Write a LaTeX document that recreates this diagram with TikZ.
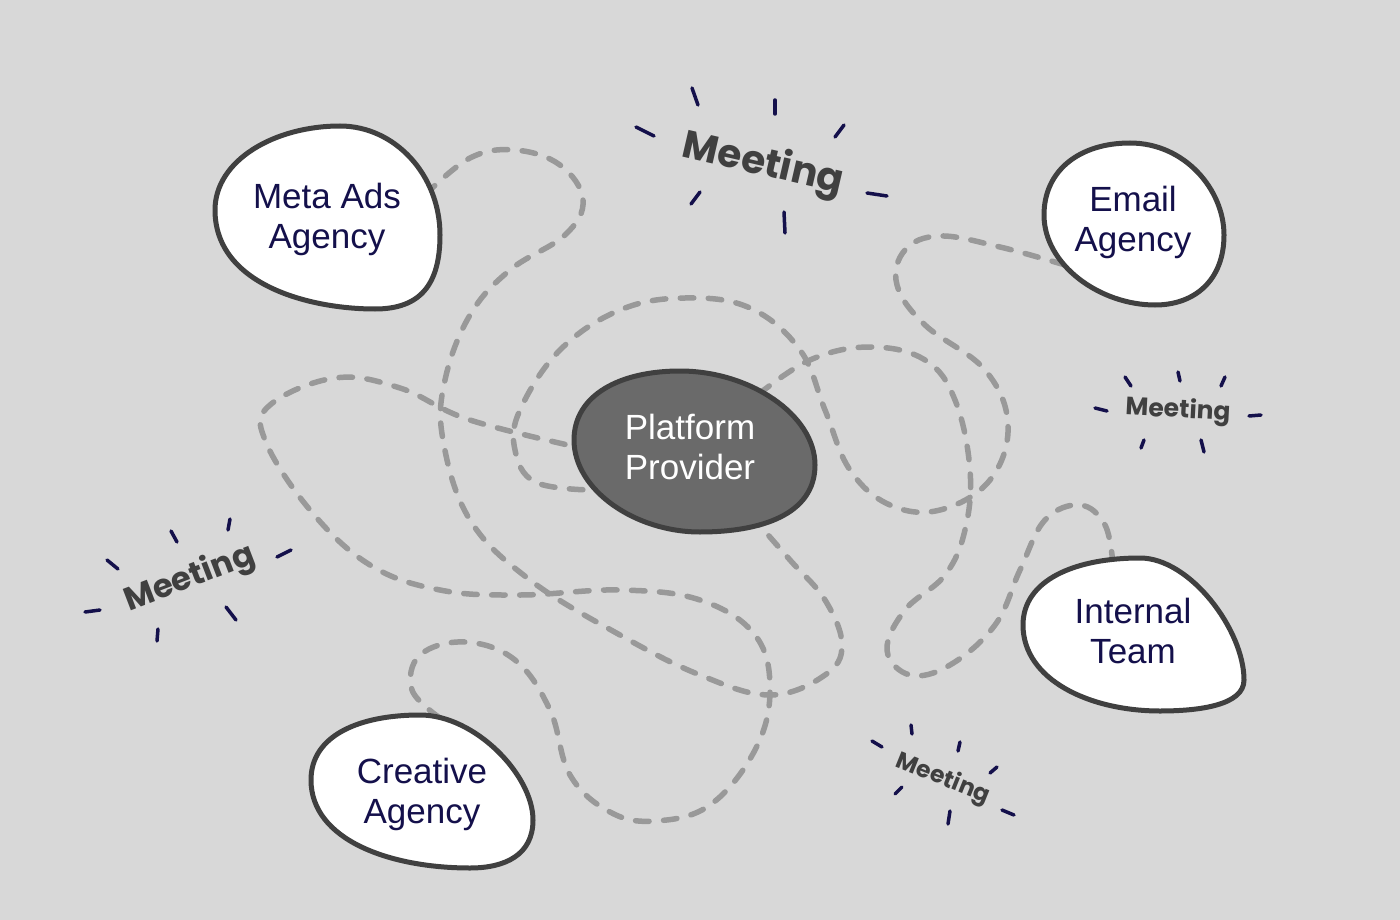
\documentclass[tikz,border=0pt]{standalone}
\usepackage{fontspec}
\setmainfont{Liberation Sans}
\newfontfamily\handfont{Poppins}
\definecolor{bgcol}{HTML}{D8D8D8}
\definecolor{inkcol}{HTML}{14104B}
\definecolor{rimcol}{HTML}{404040}
\definecolor{dashcol}{HTML}{999999}
\definecolor{provcol}{HTML}{6A6A6A}
\tikzset{
  linkline/.style={draw=dashcol, line width=5.5pt, line cap=round, dash pattern=on 13.5pt off 14.5pt},
  blob/.style={draw=rimcol, fill=white, line width=5pt},
  blobtext/.style={align=center, inner sep=0pt, text=inkcol, font=\fontsize{35}{40}\selectfont},
  spark/.style={draw=inkcol, line width=3.5pt, line cap=round},
  meetlabel/.style={inner sep=0pt, text=rimcol},
}
\begin{document}
\begin{tikzpicture}[x=1pt, y=-1pt]
\useasboundingbox (0,0) rectangle (1400,920);
\fill[bgcol] (0,0) rectangle (1400,920);
\coordinate (metaport) at (425,195);
\coordinate (emailport) at (1065,265);
\coordinate (teamport) at (1113,565);
\coordinate (creativeport) at (440,718);
\coordinate (provport0) at (755,520);
\coordinate (provport1) at (590,490);
\coordinate (provport2) at (755,397);
\coordinate (provport3) at (590,450);
\draw[linkline] plot[smooth, tension=.65] coordinates {(metaport) (470,158) (515,150) (560,165) (583,200) (565,235) (510,270) (470,315) (445,380) (443,440) (470,520) (530,580) (620,635) (700,675) (770,695) (825,675) (842,645) (825,600) (790,560) (provport0)};
\draw[linkline] plot[smooth, tension=.65] coordinates {(emailport) (1000,247) (940,236) (905,250) (897,285) (925,325) (985,370) (1008,425) (990,480) (940,510) (890,505) (850,470) (825,410) (800,350) (750,308) (685,298) (620,310) (560,350) (520,410) (515,450) (535,482) (provport1)};
\draw[linkline] plot[smooth, tension=.65] coordinates {(teamport) (1105,525) (1080,505) (1045,520) (1020,570) (995,625) (950,665) (910,675) (887,650) (905,610) (945,575) (965,530) (970,470) (955,400) (925,360) (870,347) (810,360) (provport2)};
\draw[linkline] plot[smooth, tension=.65] coordinates {(creativeport) (412,690) (420,655) (465,642) (515,660) (550,710) (570,775) (610,812) (655,821) (710,805) (755,750) (770,690) (755,635) (700,600) (620,590) (520,595) (440,590) (370,565) (310,510) (265,440) (270,405) (335,378) (400,388) (470,420) (provport3)};
\draw[blob] (340,126) .. controls (395,126) and (440,175) .. (440,235) .. controls (440,285) and (420,309) .. (375,309) .. controls (310,309) and (215,285) .. (215,210) .. controls (215,160) and (275,126) .. (340,126) -- cycle;
\draw[blob] (1130,143) .. controls (1185,143) and (1224,190) .. (1224,235) .. controls (1224,280) and (1195,305) .. (1155,305) .. controls (1100,305) and (1044,265) .. (1044,215) .. controls (1044,170) and (1080,143) .. (1130,143) -- cycle;
\draw[blob] (1140,558) .. controls (1190,558) and (1244,630) .. (1244,680) .. controls (1244,705) and (1200,711) .. (1160,711) .. controls (1090,711) and (1023,680) .. (1023,625) .. controls (1023,580) and (1075,558) .. (1140,558) -- cycle;
\draw[blob] (420,715) .. controls (475,715) and (533,775) .. (533,820) .. controls (533,855) and (505,868) .. (470,868) .. controls (390,868) and (311,840) .. (311,780) .. controls (311,735) and (360,715) .. (420,715) -- cycle;
\draw[blob, fill=provcol] (680,371) .. controls (750,371) and (815,415) .. (815,465) .. controls (815,515) and (760,532) .. (700,532) .. controls (635,532) and (574,490) .. (574,440) .. controls (574,395) and (620,371) .. (680,371) -- cycle;
\node[blobtext] (meta) at (327,219) {Meta Ads\\Agency};
\node[blobtext] (email) at (1133,222) {Email\\Agency};
\node[blobtext] (team) at (1133,631) {Internal\\Team};
\node[blobtext] (creative) at (422,794) {Creative\\Agency};
\node[blobtext, text=white] (provider) at (690,447) {Platform\\Provider};
\node[meetlabel, rotate=-13, font=\handfont\bfseries\fontsize{39}{40}\selectfont] (meet0) at (763,165) {Meeting};
\node[meetlabel, rotate=21, font=\handfont\bfseries\fontsize{32.5}{34}\selectfont] (meet1) at (190,579) {Meeting};
\node[meetlabel, rotate=-3, font=\handfont\bfseries\fontsize{25}{28}\selectfont] (meet2) at (1178,411) {Meeting};
\node[meetlabel, rotate=-22, font=\handfont\bfseries\fontsize{23.5}{26}\selectfont] (meet3) at (943,779) {Meeting};
\draw[spark] (692,88) -- (698,105);
\draw[spark] (775,100) -- (775,114);
\draw[spark] (844,125) -- (835,137);
\draw[spark] (636,127) -- (654,136);
\draw[spark] (700,192) -- (691,204);
\draw[spark] (867,193) -- (887,196);
\draw[spark] (784,212) -- (785,233);
\draw[spark] (230,519) -- (228,530);
\draw[spark] (171,531) -- (177,542);
\draw[spark] (107,560) -- (118,569);
\draw[spark] (291,550) -- (277,557);
\draw[spark] (85,612) -- (100,610);
\draw[spark] (226,607) -- (236,620);
\draw[spark] (158,629) -- (157,641);
\draw[spark] (1125,377) -- (1131,386);
\draw[spark] (1178,372) -- (1180,381);
\draw[spark] (1225,377) -- (1221,386);
\draw[spark] (1095,408) -- (1107,411);
\draw[spark] (1249,416) -- (1261,415);
\draw[spark] (1144,440) -- (1141,448);
\draw[spark] (1201,440) -- (1204,452);
\draw[spark] (911,725) -- (912,734);
\draw[spark] (960,742) -- (958,751);
\draw[spark] (872,741) -- (882,747);
\draw[spark] (997,767) -- (990,773);
\draw[spark] (902,787) -- (895,794);
\draw[spark] (1002,810) -- (1014,815);
\draw[spark] (950,811) -- (948,824);
\end{tikzpicture}
\end{document}
